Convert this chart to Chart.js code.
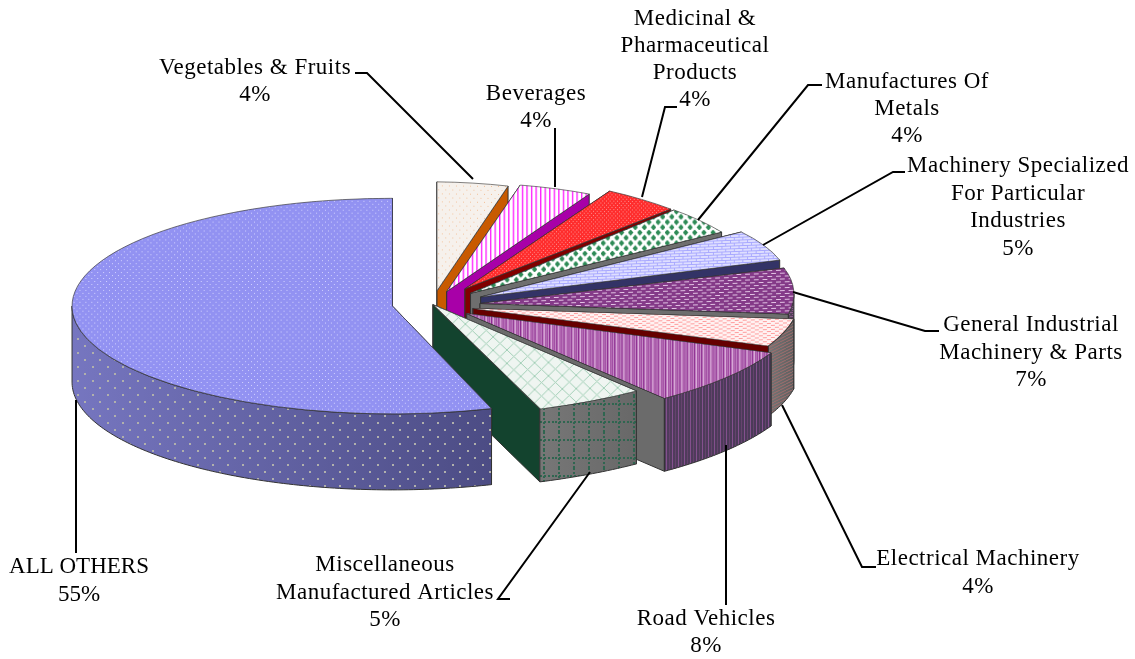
<!DOCTYPE html>
<html><head><meta charset="utf-8">
<style>html,body{margin:0;padding:0;background:#fff}#w{width:1135px;height:659px}</style>
<script src="https://cdn.jsdelivr.net/npm/chart.js@4/dist/chart.umd.min.js"></script>
</head><body><div id="w"><canvas id="c" width="1135" height="659"></canvas></div>
<script>
const categories = ['Vegetables & Fruits','Beverages','Medicinal & Pharmaceutical Products','Manufactures Of Metals','Machinery Specialized For Particular Industries','General Industrial Machinery & Parts','Electrical Machinery','Road Vehicles','Miscellaneous Manufactured Articles','ALL OTHERS'];
const values = [4,4,4,4,5,7,4,8,5,55];
const categoryLines = [['Vegetables & Fruits'],['Beverages'],['Medicinal &','Pharmaceutical','Products'],['Manufactures Of','Metals'],['Machinery Specialized','For Particular','Industries'],['General Industrial','Machinery & Parts'],['Electrical Machinery'],['Road Vehicles'],['Miscellaneous','Manufactured Articles'],['ALL OTHERS']];

// layout of the 3-D projection: per-slice explosion, stretch and shear approximate the perspective
const K = 0.335, CX = 432, CY = 304, R = 325;
const explode = [40,40,56,50,53,48,43,45,2,40];
const stretchX = [0.879,0.91,0.925,0.915,0.95,0.966,1.005,1.035,1.065,0.986];
const stretchY = [1,0.9985,1.053,1.05,0.944,0.971,1.008,1.02,1.029,0.99];
const shear = [0.01,-0.0143,0.0173,0,-0.036,-0.029,-0.0315,-0.027,-0.0226,0];
const depth = [60,60,60,60,62,66,70,73,73,76];
const labelPos = [
 {x:255,y:68,lh:27,ls:0.5,line:[[355,73],[367,73],[473,179]]},
 {x:536,y:94,lh:27,ls:0.5,line:[[555,128],[555,187]]},
 {x:695,y:19,lh:27,ls:0.5,line:[[677,107],[665,107],[642,197]]},
 {x:907,y:82,lh:27,ls:0.5,line:[[822,85],[808,85],[698,220]]},
 {x:1018,y:166,lh:27.7,ls:0.5,line:[[905,172],[893,172],[763,245]]},
 {x:1031,y:325,lh:27.5,ls:0.5,line:[[939,331],[925,331],[793,292]]},
 {x:978,y:559,lh:28,ls:0.5,line:[[876,567],[862,567],[782,405]]},
 {x:706,y:619,lh:27,ls:0.5,line:[[726,605],[726,445]]},
 {x:385,y:565,lh:27.5,ls:0.5,line:[[510,599],[498,599],[590,472]]},
 {x:79,y:567,lh:28,ls:0,line:[[76,553],[76,400]]}
];
const faceColors = ['#c85a00','#a800a8','#800000','#6e6e6e','#333366','#6e6e6e','#660000','#6b6b6b','#13432e','#5f5f9e'];
const wallFrom = ['#777','#777','#777','#777','#777','#5c4a62','#767676','#503c5c','#777777','#7676c0'];
const wallTo   = ['#777','#777','#777','#777','#777','#4c3a52','#5e5e5e','#4a3a58','#686868','#4c4c84'];

function tile(w,h,paint,sy){
  const c=document.createElement('canvas');c.width=w;c.height=h;
  const x=c.getContext('2d');paint(x);
  const p=x.createPattern(c,'repeat');
  if(sy!==1) p.setTransform(new DOMMatrix().scale(1,sy));
  return p;
}
const rect=(x,col,a,b,w,h)=>{x.fillStyle=col;x.fillRect(a,b,w,h);};
const diamond=(x,cx,cy,r)=>{x.beginPath();x.moveTo(cx-r,cy);x.lineTo(cx,cy-r);x.lineTo(cx+r,cy);x.lineTo(cx,cy+r);x.closePath();x.fill();};
const inv=1/K;
const topFills=[
 tile(8,8,x=>{rect(x,'#f6f1ec',0,0,8,8);rect(x,'#f3bd92',1,1,1,1);rect(x,'#f3bd92',5,5,1,1);},inv),
 tile(5,1,x=>{rect(x,'#ffffff',0,0,5,1);rect(x,'#ff20ff',0,0,1,1);rect(x,'#ff90ff',1,0,1,1);},inv),
 tile(4,4,x=>{rect(x,'#ff2c2c',0,0,4,4);rect(x,'#ff9090',0,0,1,1);rect(x,'#ff9090',2,2,1,1);},inv),
 tile(10,10,x=>{rect(x,'#ffffff',0,0,10,10);x.fillStyle='#2e8b57';diamond(x,2.5,2.5,3);diamond(x,7.5,7.5,3);},inv),
 tile(9,6,x=>{rect(x,'#dedeff',0,0,9,6);rect(x,'#a8a8ff',0,0,9,1);rect(x,'#a8a8ff',0,3,9,1);rect(x,'#a8a8ff',2,0,1,3);rect(x,'#a8a8ff',6,3,1,3);},inv),
 tile(9,6,x=>{rect(x,'#843a88',0,0,9,6);rect(x,'#e4c6e6',1,1,5,1);rect(x,'#e4c6e6',5,4,4,1);rect(x,'#e4c6e6',0,4,1,1);},inv),
 tile(8,4,x=>{rect(x,'#fff2f2',0,0,8,4);rect(x,'#ff9c9c',0,0,4,1);rect(x,'#ff9c9c',4,2,4,1);},inv),
 tile(7,1,x=>{['#b46cb4','#a04aa2','#c890c8','#8c2c90','#bb78bb','#dcb0dc','#a858a8'].forEach((c,i)=>rect(x,c,i,0,1,1));},inv),
 tile(13,13,x=>{rect(x,'#eff5f1',0,0,13,13);x.strokeStyle='#a4d0b8';x.lineWidth=1;x.beginPath();x.moveTo(0,0);x.lineTo(13,13);x.moveTo(13,0);x.lineTo(0,13);x.stroke();},inv),
 tile(6,6,x=>{rect(x,'#9292f2',0,0,6,6);rect(x,'#d4d4ff',1,1,1,1);rect(x,'#d4d4ff',4,4,1,1);},inv)
];
const wallOverlay=[null,null,null,null,null,
 tile(5,4,x=>{rect(x,'#8a5a8a',0,0,3,1);rect(x,'#8a5a8a',2,2,3,1);},1),
 tile(6,6,x=>{x.strokeStyle='#a06e6e';x.lineWidth=1;x.beginPath();x.moveTo(0,6);x.lineTo(6,3);x.moveTo(0,3);x.lineTo(6,0);x.stroke();},1),
 tile(6,1,x=>{rect(x,'#84508e',0,0,1,1);rect(x,'#66426e',3,0,1,1);},1),
 tile(15,18,x=>{x.fillStyle='#2f6650';for(let i=0;i<18;i+=4)x.fillRect(3,i,2,2);for(let i=0;i<15;i+=4)x.fillRect(i,7,2,2);},1),
 tile(15,14,x=>{rect(x,'#b0b0ac',2,2,2,2);rect(x,'#b0b0ac',9,9,2,2);},1)
];

const pie3d={id:'pie3d',
 beforeDatasetDraw(chart,args){
  const ctx=chart.ctx, arcs=chart.getDatasetMeta(args.index).data;
  arcs.forEach((arc,i)=>{
   const p=arc.getProps(['x','y','startAngle','endAngle','outerRadius'],true);
   const mid=(p.startAngle+p.endAngle)/2, ox=CX+Math.cos(mid)*explode[i], oy=CY+Math.sin(mid)*explode[i]*K;
   const sx=stretchX[i], sy=stretchY[i]*K, sh=shear[i], r=p.outerRadius, D=depth[i];
   const P=(a,d=0)=>[ox+Math.cos(a)*r*sx, oy+Math.cos(a)*r*sh+Math.sin(a)*r*sy+d];
   ctx.save();
   ctx.lineWidth=1;ctx.strokeStyle='#333';ctx.lineJoin='round';
   // cut faces
   [p.startAngle,p.endAngle].forEach(a=>{
    const e=P(a),b=P(a,D);
    ctx.beginPath();ctx.moveTo(ox,oy);ctx.lineTo(e[0],e[1]);ctx.lineTo(b[0],b[1]);ctx.lineTo(ox,oy+D);ctx.closePath();
    ctx.fillStyle=faceColors[i];ctx.fill();ctx.stroke();
   });
   // outer wall, front half only
   const a0=Math.max(p.startAngle,0), a1=Math.min(p.endAngle,Math.PI);
   if(a1>a0){
    const trace=()=>{ctx.beginPath();
     const n=Math.ceil((a1-a0)*60);
     for(let j=0;j<=n;j++){const q=P(a0+(a1-a0)*j/n);j?ctx.lineTo(q[0],q[1]):ctx.moveTo(q[0],q[1]);}
     for(let j=n;j>=0;j--){const q=P(a0+(a1-a0)*j/n,D);ctx.lineTo(q[0],q[1]);}
     ctx.closePath();};
    const xa=P(a1)[0],xb=P(a0)[0];
    const g=ctx.createLinearGradient(xa,0,xb,0);g.addColorStop(0,wallFrom[i]);g.addColorStop(1,wallTo[i]);
    trace();ctx.fillStyle=g;ctx.fill();
    if(wallOverlay[i]){ctx.fillStyle=wallOverlay[i];ctx.fill();}
    ctx.stroke();
   }
   ctx.restore();
   // top surface: the library's own arc element, projected
   ctx.save();
   ctx.transform(sx,sh,0,sy,ox,oy);ctx.translate(-p.x,-p.y);
   arc.draw(ctx);
   ctx.restore();
  });
  return false;
 },
 afterDraw(chart){
  const ctx=chart.ctx;
  ctx.save();
  ctx.fillStyle='#000';ctx.strokeStyle='#000';ctx.lineWidth=2;
  ctx.font='23px "Liberation Serif"';ctx.textAlign='center';ctx.textBaseline='middle';
  categoryLines.forEach((lines,i)=>{
   const lp=labelPos[i];
   ctx.letterSpacing=lp.ls+'px';
   [...lines,values[i]+'%'].forEach((t,j)=>ctx.fillText(t,lp.x,lp.y+j*lp.lh));
   ctx.beginPath();lp.line.forEach((q,j)=>j?ctx.lineTo(q[0],q[1]):ctx.moveTo(q[0],q[1]));ctx.stroke();
  });
  ctx.restore();
 }
};

new Chart(document.getElementById('c'),{
 type:'pie',
 data:{labels:categories,datasets:[{data:values,backgroundColor:topFills,borderColor:'#333',borderWidth:1,borderJoinStyle:'round'}]},
 plugins:[pie3d],
 options:{responsive:false,animation:false,radius:R,rotation:0,
  layout:{padding:0},
  plugins:{legend:{display:false},tooltip:{enabled:false},title:{display:false}}}
});
</script></body></html>
